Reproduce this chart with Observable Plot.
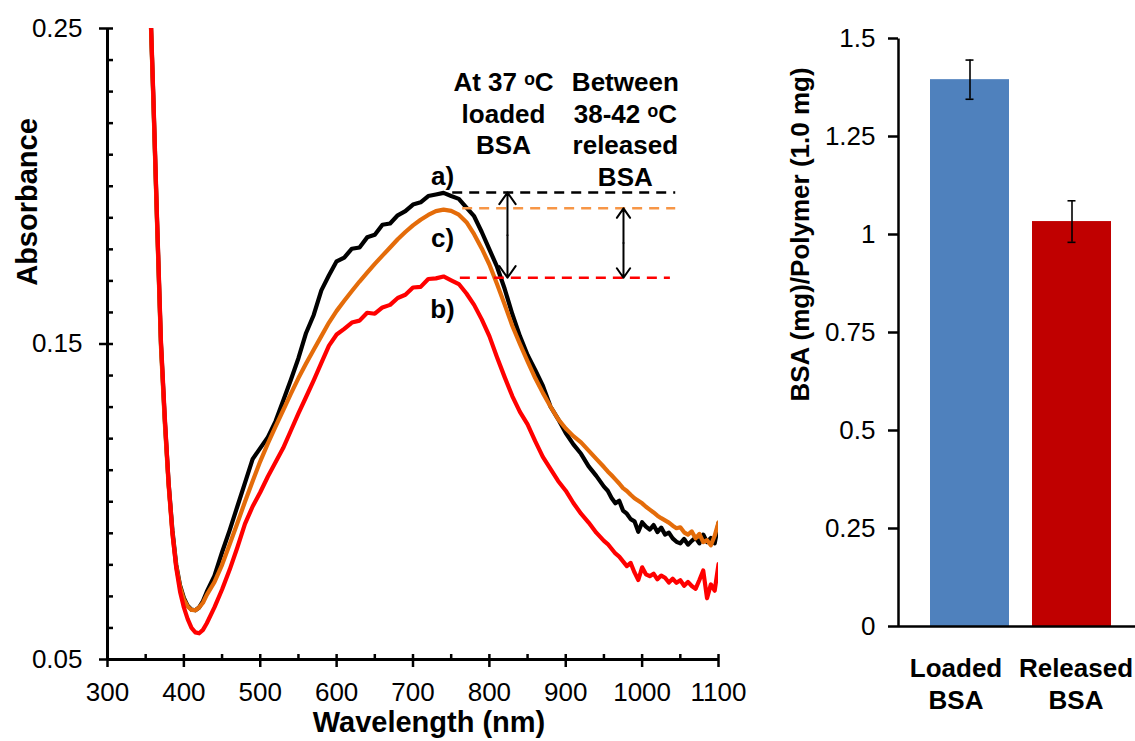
<!DOCTYPE html>
<html>
<head>
<meta charset="utf-8">
<script src="https://cdn.jsdelivr.net/npm/d3@7"></script>
<script src="https://cdn.jsdelivr.net/npm/@observablehq/plot@0.6"></script>
<style>
  body { margin: 0; background: #fff; }
  #wrap { position: relative; width: 1135px; height: 741px; overflow: hidden; background: #fff; }
  #wrap svg { position: absolute; left: 0; top: 0; }
</style>
</head>
<body>
<div id="wrap"></div>
<script>
// ---------------- DATA ----------------
// Shared wavelength grid (nm)
const wavelength = [
  355,360,365,370,375,380,385,390,395,400,405,410,415,420,425,430,
  440,450,460,470,480,490,500,510,520,530,540,550,560,570,580,590,600,610,620,630,
  640,650,660,670,680,690,700,710,720,730,740,750,760,770,780,790,800,810,820,830,
  840,850,860,870,880,890,900,910,920,930,940,950,
  955,960,965,970,975,980,985,990,995,1000,1005,1010,1015,1020,1025,1030,1035,1040,1045,1050,
  1055,1060,1065,1070,1075,1080,1085,1090,1095,1100
];
// a) black curve
const absA = [
  0.265,0.228,0.188,0.150,0.126,0.106,0.091,0.080,0.0735,0.0695,0.067,0.0658,0.0656,0.0665,0.0685,0.0715,
  0.0765,0.084,0.091,0.0985,0.106,0.1135,0.117,0.1205,0.1255,0.132,0.1386,0.1455,0.1535,0.1592,0.167,0.1718,0.1762,0.1774,0.1802,0.1806,
  0.1838,0.1846,0.1878,0.1882,0.1908,0.1921,0.1942,0.1949,0.1969,0.1974,0.1979,0.1969,0.1960,0.1932,0.1905,0.1855,0.180,0.1745,0.1675,0.1595,
  0.1525,0.1465,0.1418,0.1368,0.1302,0.1262,0.1218,0.1182,0.1152,0.1112,0.1082,0.1048,
  0.1035,0.1012,0.0995,0.1003,0.0972,0.0962,0.0945,0.0938,0.0905,0.0935,0.0921,0.0912,0.0926,0.0904,0.0918,0.0896,0.0902,0.0884,0.0873,0.0868,
  0.0882,0.0864,0.0876,0.0886,0.0868,0.0896,0.0872,0.0885,0.0868,0.0932
];
// b) red curve
const absB = [
  0.266,0.229,0.189,0.151,0.127,0.106,0.090,0.079,0.0715,0.0665,0.0628,0.0600,0.0586,0.0583,0.0594,0.0615,
  0.0665,0.0722,0.0785,0.0855,0.093,0.0985,0.103,0.108,0.1125,0.117,0.1225,0.128,0.1332,0.1385,0.1440,0.1495,0.1530,0.1548,0.1568,0.1574,
  0.1599,0.1596,0.1616,0.1624,0.1646,0.1656,0.1679,0.1681,0.1706,0.1708,0.1714,0.1702,0.1690,0.1660,0.1624,0.1578,0.1525,0.1458,0.1395,0.1335,
  0.1285,0.1245,0.1192,0.1142,0.1104,0.1066,0.1035,0.0996,0.0962,0.0934,0.0902,0.0876,
  0.0866,0.0851,0.0836,0.0826,0.0811,0.0796,0.0806,0.0776,0.0752,0.0792,0.0770,0.0764,0.0772,0.0754,0.0766,0.0759,0.0744,0.0756,0.0743,0.0751,
  0.0734,0.0746,0.0733,0.0724,0.0752,0.0782,0.0694,0.0738,0.0718,0.0802
];
// c) orange curve
const absC = [
  0.265,0.227,0.187,0.149,0.125,0.105,0.090,0.0795,0.073,0.069,0.0668,0.0657,0.0656,0.0665,0.068,0.0705,
  0.0745,0.080,0.0865,0.0932,0.100,0.1065,0.1128,0.1185,0.1238,0.129,0.1342,0.1392,0.1438,0.1482,0.1525,0.1568,0.1605,0.1637,0.1668,0.1698,
  0.1726,0.1754,0.1780,0.1806,0.1832,0.1855,0.1876,0.1894,0.1909,0.1921,0.1926,0.1922,0.1910,0.1886,0.1848,0.1803,0.1752,0.1690,0.1625,0.1558,
  0.1500,0.1445,0.1392,0.1345,0.1302,0.1262,0.1232,0.1208,0.1188,0.1162,0.1136,0.1110,
  0.1096,0.1084,0.1071,0.1058,0.1043,0.1034,0.1022,0.1011,0.1003,0.0995,0.0984,0.0975,0.0966,0.0956,0.0948,0.0941,0.0934,0.0924,0.0916,0.0919,
  0.0903,0.0896,0.0906,0.0884,0.0898,0.0872,0.0878,0.0862,0.0892,0.0935
];
// peak levels marked by dashed lines: a), c), b)
const peakLevels = [0.198, 0.193, 0.171];
const curveLabels = ["a)", "c)", "b)"];
const noteLoaded = "At 37 \u1D52C\nloaded\nBSA";
const noteReleased = "Between\n38-42 \u1D52C\nreleased\nBSA";
const xTickLabels = [300, 400, 500, 600, 700, 800, 900, 1000, 1100];
const xMinorTicks = [350, 450, 550, 650, 750, 850, 950, 1050];
const yTickLabels = [0.05, 0.15, 0.25];
const yMinorTicks = d3.range(5, 26).map(v => v / 100);
const xTitle = "Wavelength (nm)";
const yTitle = "Absorbance";

// bar chart
const categories = ["Loaded BSA", "Released BSA"];
const barValues = [1.395, 1.033];
const barErrors = [0.05, 0.053];
const barTicks = [0, 0.25, 0.5, 0.75, 1, 1.25, 1.5];
const barYTitle = "BSA (mg)/Polymer (1.0 mg)";

// ---------------- CHARTS ----------------
const FONT = "'Liberation Sans', Arial, Helvetica, sans-serif";
const spectra = wavelength.map((w, i) => ({w, a: absA[i], b: absB[i], c: absC[i]}));
const bars = categories.map((cat, i) => ({cat, value: barValues[i], err: barErrors[i]}));

const baseStyle = {fontFamily: FONT, background: "transparent", overflow: "visible", color: "black"};

const arrowOpts = {stroke: "black", strokeWidth: 2, headLength: 13, headAngle: 70};
const midLoaded = (peakLevels[0] + peakLevels[2]) / 2;
const midReleased = (peakLevels[1] + peakLevels[2]) / 2;

const left = Plot.plot({
  width: 1135, height: 741,
  marginLeft: 107, marginRight: 417, marginTop: 28, marginBottom: 82,
  style: baseStyle,
  x: {domain: [300, 1100]},
  y: {domain: [0.05, 0.25]},
  marks: [
    Plot.line(spectra, {x: "w", y: "a", stroke: "#000000", strokeWidth: 4.2, clip: true}),
    Plot.line(spectra, {x: "w", y: "c", stroke: "#E46C0A", strokeWidth: 4.2, clip: true}),
    Plot.line(spectra, {x: "w", y: "b", stroke: "#FF0000", strokeWidth: 4.2, clip: true}),
    // dashed peak levels
    Plot.ruleY([peakLevels[0]], {x1: 752, x2: 1044, stroke: "#000000", strokeWidth: 2.5, strokeDasharray: "10,7"}),
    Plot.ruleY([peakLevels[1]], {x1: 765, x2: 1044, stroke: "#F79646", strokeWidth: 2.5, strokeDasharray: "10,7"}),
    Plot.ruleY([peakLevels[2]], {x1: 762, x2: 1037, stroke: "#FF0000", strokeWidth: 2.5, strokeDasharray: "10,7"}),
    // double-headed arrows (two heads drawn outward from the middle)
    Plot.arrow([0], {x1: 823.7, x2: 823.7, y1: midLoaded, y2: peakLevels[0], ...arrowOpts}),
    Plot.arrow([0], {x1: 823.7, x2: 823.7, y1: midLoaded, y2: peakLevels[2], ...arrowOpts}),
    Plot.arrow([0], {x1: 975.6, x2: 975.6, y1: midReleased, y2: peakLevels[1], ...arrowOpts}),
    Plot.arrow([0], {x1: 975.6, x2: 975.6, y1: midReleased, y2: peakLevels[2], ...arrowOpts}),
    // curve labels
    Plot.text([curveLabels[0]], {text: d => d, x: 738.6, y: 0.203, fontSize: 26, fontWeight: "bold"}),
    Plot.text([curveLabels[1]], {text: d => d, x: 738.6, y: 0.1835, fontSize: 26, fontWeight: "bold"}),
    Plot.text([curveLabels[2]], {text: d => d, x: 738.6, y: 0.161, fontSize: 26, fontWeight: "bold"}),
    // notes
    Plot.text([noteLoaded], {text: d => d, x: 818.5, y: 0.2233, fontSize: 26, fontWeight: "bold", lineHeight: 1.21}),
    Plot.text([noteReleased], {text: d => d, x: 978, y: 0.2183, fontSize: 26, fontWeight: "bold", lineHeight: 1.21}),
    // axes
    Plot.ruleX([300], {strokeWidth: 3}),
    Plot.ruleY([0.05], {strokeWidth: 3}),
    Plot.tickX(xTickLabels.concat(xMinorTicks), {x: d => d, insetTop: 626, strokeWidth: 2.5}),
    Plot.tickY(yMinorTicks, {y: d => d, insetRight: 605, strokeWidth: 2.5}),
    Plot.axisX({ticks: xTickLabels, tickSize: 8, tickPadding: 15, fontSize: 26, strokeWidth: 2.5, label: null, tickFormat: d => String(d)}),
    Plot.axisY({ticks: yTickLabels, tickSize: 8, tickPadding: 17, fontSize: 26, strokeWidth: 2.5, label: null, tickFormat: d => String(d)}),
    Plot.text([xTitle], {text: d => d, frameAnchor: "bottom", textAnchor: "middle", lineAnchor: "middle", dx: 16, dy: 63, fontSize: 29, fontWeight: "bold"}),
    Plot.text([yTitle], {text: d => d, frameAnchor: "left", textAnchor: "middle", lineAnchor: "middle", rotate: -90, dx: -80, dy: -142, fontSize: 29, fontWeight: "bold"})
  ]
});

const right = Plot.plot({
  width: 1135, height: 741,
  marginLeft: 898, marginRight: 0, marginTop: 38, marginBottom: 115,
  style: baseStyle,
  x: {type: "band", domain: categories, range: [917.5, 1123.5], paddingInner: 0.223, paddingOuter: 0.112},
  y: {domain: [0, 1.5]},
  color: {domain: categories, range: ["#4F81BD", "#C00000"]},
  marks: [
    Plot.barY(bars, {x: "cat", y: "value", fill: "cat"}),
    Plot.ruleX(bars, {x: "cat", y1: d => d.value - d.err, y2: d => d.value + d.err, stroke: "black", strokeWidth: 1.6}),
    Plot.tickY(bars, {x: "cat", y: d => d.value + d.err, insetLeft: 35.5, insetRight: 35.5, stroke: "black", strokeWidth: 1.6}),
    Plot.tickY(bars, {x: "cat", y: d => d.value - d.err, insetLeft: 35.5, insetRight: 35.5, stroke: "black", strokeWidth: 1.6}),
    Plot.ruleY([0], {strokeWidth: 2.5}),
    Plot.frame({fill: "black", stroke: "none", insetLeft: -1.25, insetRight: 235.75}),
    Plot.axisY({ticks: barTicks, tickSize: 10, tickPadding: 13, fontSize: 26, strokeWidth: 2.5, label: null, tickFormat: d => String(d)}),
    Plot.axisX({ticks: [], tickSize: 0, label: null}),
    Plot.text([categories[0]], {x: d => d, text: d => d.replace(" ", "\n"), frameAnchor: "bottom", textAnchor: "middle", lineAnchor: "top", dx: -14, dy: 28, fontSize: 26, fontWeight: "bold", lineHeight: 1.23}),
    Plot.text([categories[1]], {x: d => d, text: d => d.replace(" ", "\n"), frameAnchor: "bottom", textAnchor: "middle", lineAnchor: "top", dx: 4, dy: 28, fontSize: 26, fontWeight: "bold", lineHeight: 1.23}),
    Plot.text([barYTitle], {text: d => d, frameAnchor: "left", textAnchor: "middle", lineAnchor: "middle", rotate: -90, dx: -98, dy: -98, fontSize: 26, fontWeight: "bold"})
  ]
});

const wrap = document.getElementById("wrap");
wrap.appendChild(left);
wrap.appendChild(right);
</script>
</body>
</html>
